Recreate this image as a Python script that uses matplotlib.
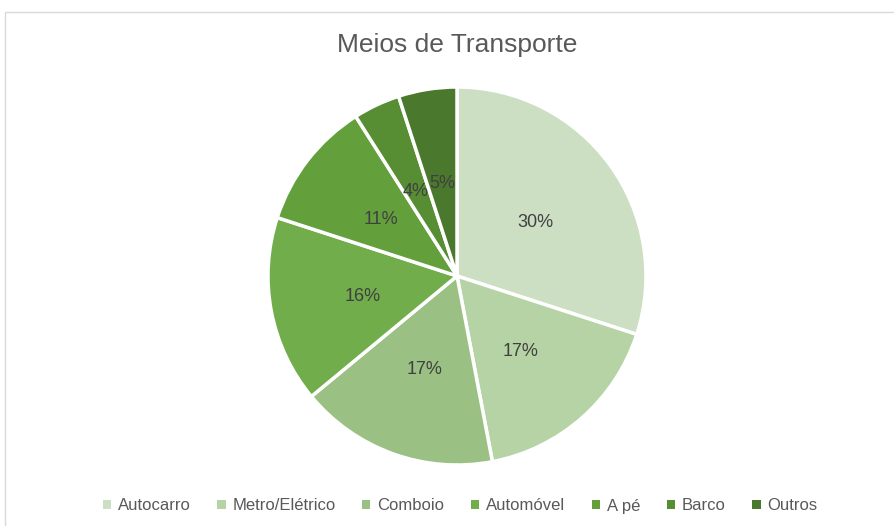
import matplotlib.pyplot as plt
from matplotlib.patches import Rectangle

# Data
categories = ["Autocarro", "Metro/Elétrico", "Comboio", "Automóvel", "A pé", "Barco", "Outros"]
values = [30, 17, 17, 16, 11, 4, 5]
colors = ["#cddfc3", "#b5d3a4", "#9ac183", "#72ad4c", "#63a03c", "#578e34", "#4a782d"]

plt.rcParams['font.family'] = ['Liberation Sans', 'DejaVu Sans']

fig = plt.figure(figsize=(8.95, 5.26), dpi=100)

# light frame like the chart area border
fig.patches.append(Rectangle((5 / 895, -0.05), 1, 1.05 - 12 / 526, transform=fig.transFigure,
                             fill=False, edgecolor="#d9d9d9", linewidth=1))

# pie axes: center (457, 276), radius ~189 px
r = 189
cx, cy = 457, 526 - 276
ax = fig.add_axes([(cx - r) / 895, (cy - r) / 526, 2 * r / 895, 2 * r / 526])
wedges, texts, autotexts = ax.pie(values, colors=colors, startangle=90, counterclock=False,
                                  autopct='%1.0f%%', pctdistance=0.51,
                                  wedgeprops=dict(edgecolor="white", linewidth=2.5),
                                  textprops=dict(color="#404040", fontsize=13))
for t in autotexts:
    x, y = t.get_position()
    t.set_position((x, y - 0.015))
ax.set_xlim(-1, 1)
ax.set_ylim(-1, 1)
ax.set_aspect('equal')

fig.text(457 / 895, 1 - 45 / 526, "Meios de Transporte", ha="center", va="center",
         fontsize=19, color="#595959")

leg = fig.legend(wedges, categories, loc="center", bbox_to_anchor=(460 / 895, 1 - 506 / 526),
                 ncol=7, frameon=False, fontsize=12, handlelength=0.5, handleheight=0.5,
                 handletextpad=0.4, columnspacing=1.6, labelcolor="#595959")
for h in leg.legend_handles:
    h.set_edgecolor("none")

fig.savefig("out.png", dpi=100)
